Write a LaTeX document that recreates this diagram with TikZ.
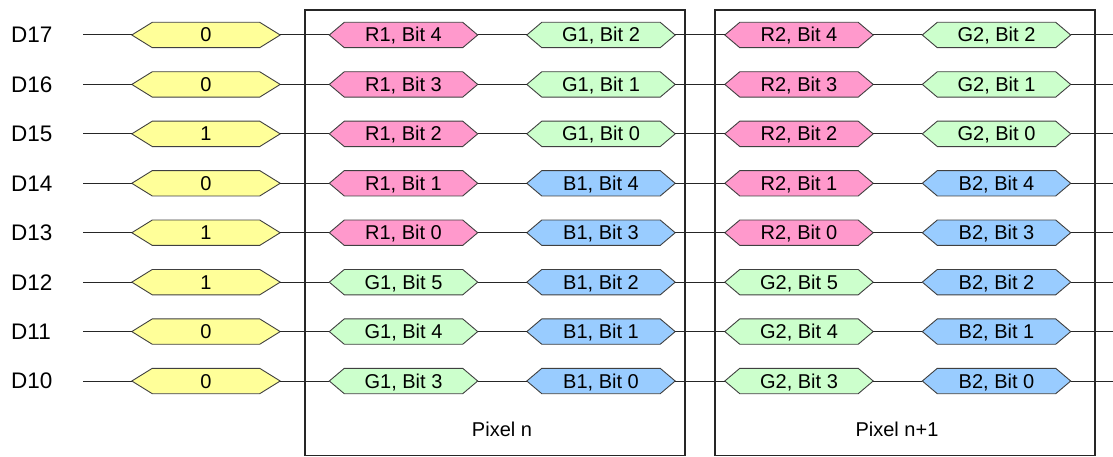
\documentclass[tikz,border=0pt]{standalone}
\usepackage{fontspec}
\setmainfont{Liberation Sans}
\pgfdeclarelayer{bg}
\pgfsetlayers{bg,main}
\definecolor{hexY}{HTML}{FFFF99}
\definecolor{hexR}{HTML}{FF99CC}
\definecolor{hexG}{HTML}{CCFFCC}
\definecolor{hexB}{HTML}{99CCFF}
\definecolor{hexborder}{HTML}{404040}
\definecolor{wirecol}{HTML}{262626}
\tikzset{
  hexnode/.style={minimum width=148pt, minimum height=25pt, inner sep=0pt,
    text height=14pt, text depth=0pt, font=\fontsize{20}{24}\selectfont},
  wire/.style={draw=wirecol, line width=1pt},
  boxline/.style={draw=wirecol, line width=1.2pt},
  dlabel/.style={anchor=west, inner sep=0pt, font=\fontsize{22.5}{27}\selectfont},
  pixlabel/.style={inner sep=0pt, font=\fontsize{20}{24}\selectfont},
}
\newcommand\mkhex[6]{%
  \node[hexnode] (#1) at (#2,#3) {#6};
  \begin{pgfonlayer}{bg}
    \path[fill=#5, draw=hexborder, line width=0.9pt]
      (#1.west) -- ([xshift=#4]#1.north west) -- ([xshift=-#4]#1.north east)
      -- (#1.east) -- ([xshift=-#4]#1.south east) -- ([xshift=#4]#1.south west) -- cycle;
  \end{pgfonlayer}}
\begin{document}
\begin{tikzpicture}[x=1pt,y=-1pt]
\useasboundingbox (0,0) rectangle (1113,457);
\draw[boxline] (305,10) rectangle (685,455.5);
\draw[boxline] (715,10) rectangle (1095,455.5);
\node[pixlabel] (pn) at (502,429) {Pixel n};
\node[pixlabel] (pn1) at (897,429) {Pixel n+1};
\foreach \i/\dn/\v/\lc/\ll/\lb/\rc/\rl/\rb in {
  0/17/0/hexR/R/4/hexG/G/2,
  1/16/0/hexR/R/3/hexG/G/1,
  2/15/1/hexR/R/2/hexG/G/0,
  3/14/0/hexR/R/1/hexB/B/4,
  4/13/1/hexR/R/0/hexB/B/3,
  5/12/1/hexG/G/5/hexB/B/2,
  6/11/0/hexG/G/4/hexB/B/1,
  7/10/0/hexG/G/3/hexB/B/0}{
  \pgfmathsetmacro\y{35+49.43*\i}
  \node[dlabel] (d\i) at (11,\y) {D\dn};
  \coordinate (s\i) at (83,\y);
  \coordinate (t\i) at (1113,\y);
  \mkhex{y\i}{206}{\y}{20.5pt}{hexY}{\v}
  \mkhex{a\i}{403.5}{\y}{15pt}{\lc}{\ll1, Bit \lb}
  \mkhex{b\i}{601}{\y}{15pt}{\rc}{\rl1, Bit \rb}
  \mkhex{c\i}{799}{\y}{15pt}{\lc}{\ll2, Bit \lb}
  \mkhex{e\i}{996.5}{\y}{15pt}{\rc}{\rl2, Bit \rb}
  \draw[wire] (s\i) -- (y\i.west);
  \draw[wire] (y\i.east) -- (a\i.west);
  \draw[wire] (a\i.east) -- (b\i.west);
  \draw[wire] (b\i.east) -- (c\i.west);
  \draw[wire] (c\i.east) -- (e\i.west);
  \draw[wire] (e\i.east) -- (t\i);
}
\end{tikzpicture}
\end{document}
